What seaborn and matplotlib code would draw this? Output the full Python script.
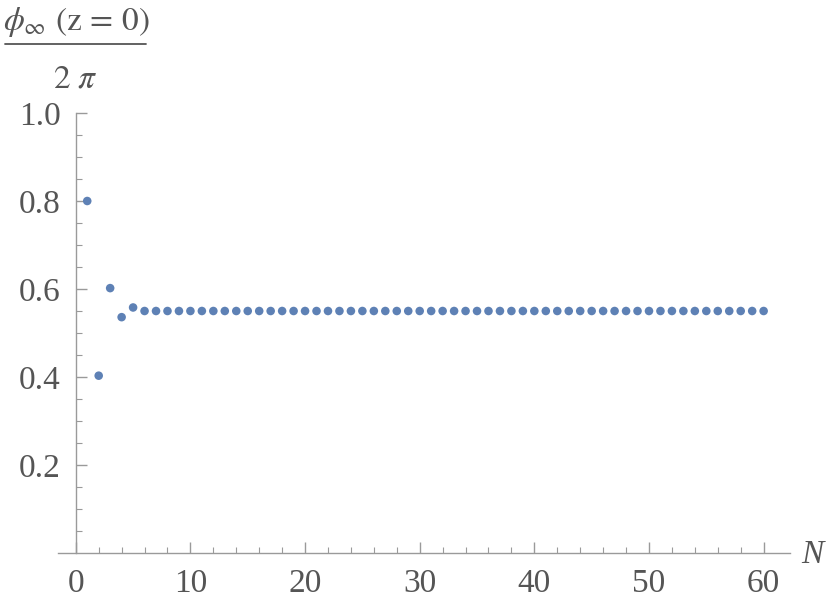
import numpy as np
import pandas as pd
import matplotlib
matplotlib.use("Agg")
import matplotlib.pyplot as plt
import seaborn as sns
from matplotlib.lines import Line2D

# values
n_vals = list(range(1, 61))
phi_vals = [0.800, 0.403, 0.602, 0.536, 0.558] + [0.550] * 55

x_major = [0, 10, 20, 30, 40, 50, 60]
y_major = [0.2, 0.4, 0.6, 0.8, 1.0]

df = pd.DataFrame({"N": n_vals, "phi": phi_vals})

sns.set_style("ticks")
plt.rcParams["font.family"] = ["Liberation Serif", "DejaVu Serif"]
plt.rcParams["mathtext.fontset"] = "stix"

txt = "#555555"
axc = "#9a9a9a"

fig = plt.figure(figsize=(8.3, 6.08), dpi=100)
ax = fig.add_axes([58 / 830, 55 / 608, (790 - 58) / 830, (553 - 113) / 608])

sns.scatterplot(data=df, x="N", y="phi", ax=ax, color="#5E81B5",
                s=38, edgecolor="none", linewidth=0, legend=False)

ax.set_xlim(-1.55, 62.3)
ax.set_ylim(0, 1.0)

for s in ["top", "right"]:
    ax.spines[s].set_visible(False)
ax.spines["left"].set_position(("data", 0))
ax.spines["left"].set_bounds(0, 1.0)
ax.spines["left"].set_color(axc)
ax.spines["bottom"].set_color(axc)
ax.spines["left"].set_linewidth(1.0)
ax.spines["bottom"].set_linewidth(1.0)

ax.set_xticks(x_major)
ax.set_xticks(np.arange(2, 61, 2), minor=True)
ax.set_yticks(y_major)
ax.set_yticks(np.arange(0.05, 1.0, 0.05), minor=True)
ax.set_yticklabels([f"{v:.1f}" for v in y_major])

ax.tick_params(which="major", direction="in", length=8, width=1.0,
               color=axc, labelcolor=txt, labelsize=24, pad=11)
ax.tick_params(which="minor", direction="in", length=4.5, width=0.8,
               color=axc)

ax.set_xlabel("")
ax.set_ylabel("")

# axis labels
fig.text(812 / 830, 1 - 555 / 608, "N", fontsize=24, style="italic",
         color=txt, ha="center", va="center")
fig.text(76 / 830, 1 - 22 / 608, r"$\phi_{\infty}\ (\mathrm{z}\,=\,0)$",
         fontsize=24, color=txt, ha="center", va="center")
fig.add_artist(Line2D([5 / 830, 146 / 830], [1 - 44 / 608, 1 - 44 / 608],
                      transform=fig.transFigure, color=txt, linewidth=1.3))
fig.text(75 / 830, 1 - 79 / 608, r"$2\ \pi$", fontsize=24, color=txt,
         ha="center", va="center")

fig.savefig("out.png", dpi=100)
